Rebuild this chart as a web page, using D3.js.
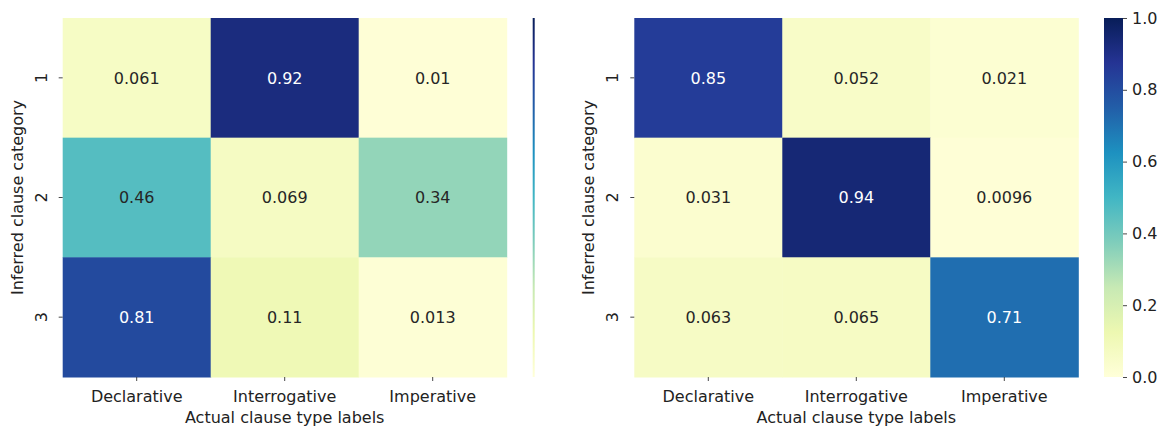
<!DOCTYPE html>
<html>
<head>
<meta charset="utf-8">
<script src="https://cdn.jsdelivr.net/npm/d3@7"></script>
<style>
  body { margin: 0; background: #fff; }
  text { font-family: "DejaVu Sans", sans-serif; }
</style>
</head>
<body>
<svg width="1168" height="432"></svg>
<script>
var xLabels = ["Declarative", "Interrogative", "Imperative"];
var yLabels = ["1", "2", "3"];
var leftValues = [
    [0.061, 0.92, 0.01],
    [0.46, 0.069, 0.34],
    [0.81, 0.11, 0.013]
];
var rightValues = [
    [0.85, 0.052, 0.021],
    [0.031, 0.94, 0.0096],
    [0.063, 0.065, 0.71]
];
var leftText = [["0.061","0.92","0.01"],["0.46","0.069","0.34"],["0.81","0.11","0.013"]];
var rightText = [["0.85","0.052","0.021"],["0.031","0.94","0.0096"],["0.063","0.065","0.71"]];
var cbTicks = [0, 0.2, 0.4, 0.6, 0.8, 1.0];

var svg = d3.select("svg");

// matplotlib YlGnBu: linear through the 9 brewer colours
var stops = d3.schemeYlGnBu[9];
var color = d3.scaleLinear()
    .domain(stops.map(function(d, i) { return i / (stops.length - 1); }))
    .range(stops)
    .clamp(true);

var topY = 18, botY = 377, w = 444;
var fs = "16px";

var panels = [
    {x0: 62.7, values: leftValues, text: leftText, cbX: 532.7, cbW: 2, cbAxis: false},
    {x0: 634.3, values: rightValues, text: rightText, cbX: 1104, cbW: 19, cbAxis: true}
];

panels.forEach(function(p, pi) {
    var x = d3.scaleBand().domain(xLabels).range([p.x0, p.x0 + w]);
    var y = d3.scaleBand().domain(yLabels).range([topY, botY]);
    var g = svg.append("g");

    var cells = [];
    for (var i = 0; i < yLabels.length; i++) {
        for (var j = 0; j < xLabels.length; j++) {
            cells.push({r: yLabels[i], c: xLabels[j], v: p.values[i][j], t: p.text[i][j]});
        }
    }

    g.selectAll("rect.cell").data(cells).enter().append("rect")
        .attr("class", "cell")
        .attr("x", function(d) { return x(d.c); })
        .attr("y", function(d) { return y(d.r); })
        .attr("width", x.bandwidth() + 0.5)
        .attr("height", y.bandwidth() + 0.5)
        .attr("fill", function(d) { return color(d.v); });

    g.selectAll("text.annot").data(cells).enter().append("text")
        .attr("class", "annot")
        .attr("x", function(d) { return x(d.c) + x.bandwidth() / 2; })
        .attr("y", function(d) { return y(d.r) + y.bandwidth() / 2; })
        .attr("dy", "0.36em")
        .attr("text-anchor", "middle")
        .style("font-size", fs)
        .attr("fill", function(d) {
            var c = d3.rgb(color(d.v));
            var lum = (0.2126 * c.r + 0.7152 * c.g + 0.0722 * c.b) / 255;
            return lum > 0.408 ? "#262626" : "#fff";
        })
        .text(function(d) { return d.t; });

    // x ticks
    xLabels.forEach(function(l) {
        var cx = x(l) + x.bandwidth() / 2;
        g.append("line").attr("x1", cx).attr("x2", cx).attr("y1", botY).attr("y2", botY + 4)
            .attr("stroke", "#333").attr("stroke-width", 0.9);
        g.append("text").attr("x", cx).attr("y", 401.5)
            .attr("text-anchor", "middle").style("font-size", fs).attr("fill", "#222")
            .text(l);
    });
    g.append("text").attr("x", p.x0 + w / 2).attr("y", 423)
        .attr("text-anchor", "middle").style("font-size", fs).attr("fill", "#222")
        .text("Actual clause type labels");

    // y ticks
    yLabels.forEach(function(l) {
        var cy = y(l) + y.bandwidth() / 2;
        g.append("line").attr("x1", p.x0 - 4).attr("x2", p.x0).attr("y1", cy).attr("y2", cy)
            .attr("stroke", "#333").attr("stroke-width", 0.9);
        g.append("text")
            .attr("transform", "translate(" + (p.x0 - 16) + "," + cy + ") rotate(-90)")
            .attr("text-anchor", "middle").style("font-size", fs).attr("fill", "#222")
            .text(l);
    });
    g.append("text")
        .attr("transform", "translate(" + (p.x0 - 40) + "," + ((topY + botY) / 2) + ") rotate(-90)")
        .attr("text-anchor", "middle").style("font-size", fs).attr("fill", "#222")
        .text("Inferred clause category");

    // colorbar
    var cbScale = d3.scaleLinear().domain([0, 1]).range([botY, topY]);
    var gradId = "grad" + pi;
    var grad = svg.append("defs").append("linearGradient").attr("id", gradId)
        .attr("x1", 0).attr("y1", 1).attr("x2", 0).attr("y2", 0);
    stops.forEach(function(s, i) {
        grad.append("stop").attr("offset", i / (stops.length - 1)).attr("stop-color", s);
    });
    g.append("rect").attr("x", p.cbX).attr("y", topY).attr("width", p.cbW).attr("height", botY - topY)
        .attr("fill", "url(#" + gradId + ")");

    if (p.cbAxis) {
        var axis = d3.axisRight(cbScale).tickValues(cbTicks).tickFormat(d3.format(".1f"))
            .tickSize(4).tickPadding(5);
        var ag = g.append("g").attr("transform", "translate(" + (p.cbX + p.cbW) + ",0)").call(axis);
        ag.select(".domain").remove();
        ag.selectAll("line").attr("stroke", "#333").attr("stroke-width", 0.9);
        ag.selectAll("text").style("font-size", fs).style("font-family", "DejaVu Sans, sans-serif")
            .attr("fill", "#222");
    }
});
</script>
</body>
</html>
